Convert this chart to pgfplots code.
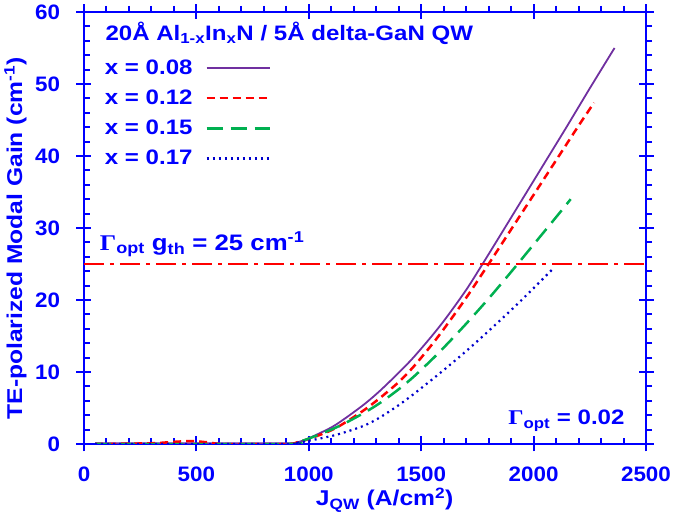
\documentclass[border=0pt]{standalone}
\usepackage{pgfplots}
\pgfplotsset{compat=1.18}
\usepackage{fontspec}
\setmainfont{Liberation Sans}[FakeStretch=1.15]
\newfontfamily\tickfont{Liberation Sans}[FakeStretch=1.07]
\newfontfamily\gfont{Liberation Serif}[FakeStretch=1.15]
\definecolor{axblue}{RGB}{0,0,255}
\definecolor{cpurple}{RGB}{112,48,160}
\definecolor{cred}{RGB}{255,0,0}
\definecolor{cgreen}{RGB}{0,176,80}
\definecolor{cdblue}{RGB}{0,0,204}
\newcommand{\fs}{\fontsize{21}{25}\selectfont\bfseries}
\newcommand{\fg}{\fontsize{22.5}{27}\selectfont\bfseries}
\newcommand{\fl}{\fontsize{21.5}{26}\selectfont\bfseries}
\newcommand{\ft}{\tickfont\fontsize{21}{25}\selectfont\bfseries}
\begin{document}
\begin{tikzpicture}
\begin{axis}[
 scale only axis, width=562bp, height=432bp,
 xmin=0, xmax=2500, ymin=0, ymax=60,
 axis line style={line width=2.5bp, axblue},
 xtick={0,500,...,2500}, ytick={0,10,...,60},
 minor x tick num=4, minor y tick num=4,
 tick align=center,
 major tick length=15bp, minor tick length=6bp,
 tick style={axblue, line width=2bp},
 minor x tick style={yshift=3bp}, minor y tick style={xshift=3bp},
 ticklabel style={font=\ft, text=axblue},
 xticklabel style={yshift=-12bp},
 yticklabel style={xshift=-13bp},
 /pgf/number format/assume math mode=true,
 /pgf/number format/1000 sep={},
 xlabel={J\textsubscript{QW} (A/cm\textsuperscript{2})},
 ylabel={TE-polarized Modal Gain (cm\textsuperscript{-1})},
 label style={font=\fl, text=axblue},
 xlabel style={at={(axis description cs:0.535,-0.143)}, anchor=base},
 ylabel style={at={(axis description cs:-0.122,0.476)}, anchor=center},
 legend style={draw=none, fill=none, at={(axis cs:70,53.9)}, anchor=north west,
   font=\fs, text=axblue, row sep=10bp},
 legend cell align=left, legend plot pos=right,
 legend image code/.code={\path[#1, draw=none, fill=none] (0bp,0bp) -- (1bp,0bp); \draw[#1] (12bp,0bp) -- (75bp,0bp);},
]
\addplot[cpurple, line width=1.8bp, smooth] coordinates {
(50,0.1) (900,0.1) (950,0.25) (1000,0.8) (1100,2.3) (1168,3.7) (1250,5.6) (1317,7.4)
(1400,9.9) (1465,12.0) (1550,15.1) (1613,17.6) (1700,21.4) (1769,24.8) (1850,28.9)
(1950,34.0) (2050,39.1) (2150,44.2) (2250,49.4) (2360,55.0)};
\addlegendentry{x = 0.08}
\addplot[cred, line width=2.5bp, dash pattern=on 8bp off 5bp, smooth] coordinates {
(50,0) (300,0.1) (400,0.3) (480,0.4) (560,0.2) (620,0) (900,0) (950,0.25) (1000,0.7)
(1100,1.9) (1168,3.1) (1250,4.8) (1317,6.4) (1400,8.6) (1465,10.7) (1550,13.9)
(1613,16.5) (1700,20.3) (1800,25.0) (1900,29.8) (2000,34.6) (2100,39.4) (2200,44.2) (2269,47.4)};
\addlegendentry{x = 0.12}
\addplot[cgreen, line width=2.5bp, dash pattern=on 16bp off 8bp, smooth] coordinates {
(50,0) (900,0) (950,0.25) (1000,0.75) (1100,2.0) (1168,3.0) (1250,4.4) (1317,5.7)
(1400,7.6) (1465,9.3) (1550,11.8) (1613,13.8) (1700,16.7) (1800,20.2) (1900,23.9)
(2000,27.7) (2100,31.5) (2165,34.0)};
\addlegendentry{x = 0.15}
\addplot[cdblue, line width=2.2bp, dash pattern=on 2bp off 4bp, smooth] coordinates {
(50,0) (900,0) (950,0.18) (1000,0.45) (1100,1.1) (1168,1.7) (1250,2.6) (1317,3.7)
(1400,5.4) (1465,6.9) (1550,9.0) (1613,10.6) (1700,12.9) (1800,15.7) (1900,18.6)
(1976,20.9) (2085,24.3)};
\addlegendentry{x = 0.17}
\addplot[cred, line width=2.8bp, dash pattern=on 20bp off 6bp on 4bp off 6bp, forget plot] coordinates {(0,25) (2500,25)};
\node[anchor=base west, font=\fs, text=axblue] at (axis cs:80,56.0)
 {20Å Al\textsubscript{1-x}In\textsubscript{x}N / 5Å delta-GaN QW};
\node[anchor=base west, font=\fg, text=axblue] at (axis cs:55,26.9)
 {{\gfont Γ}\textsubscript{opt} g\textsubscript{th} = 25 cm\textsuperscript{-1}};
\node[anchor=base east, font=\fs, text=axblue] at (axis cs:2420,2.64)
 {{\gfont Γ}\textsubscript{opt} = 0.02};
\end{axis}
\pgfresetboundingbox
\path ([xshift=-84bp,yshift=-81bp]current axis.south west) rectangle ([xshift=29bp,yshift=12bp]current axis.north east);
\end{tikzpicture}
\end{document}
